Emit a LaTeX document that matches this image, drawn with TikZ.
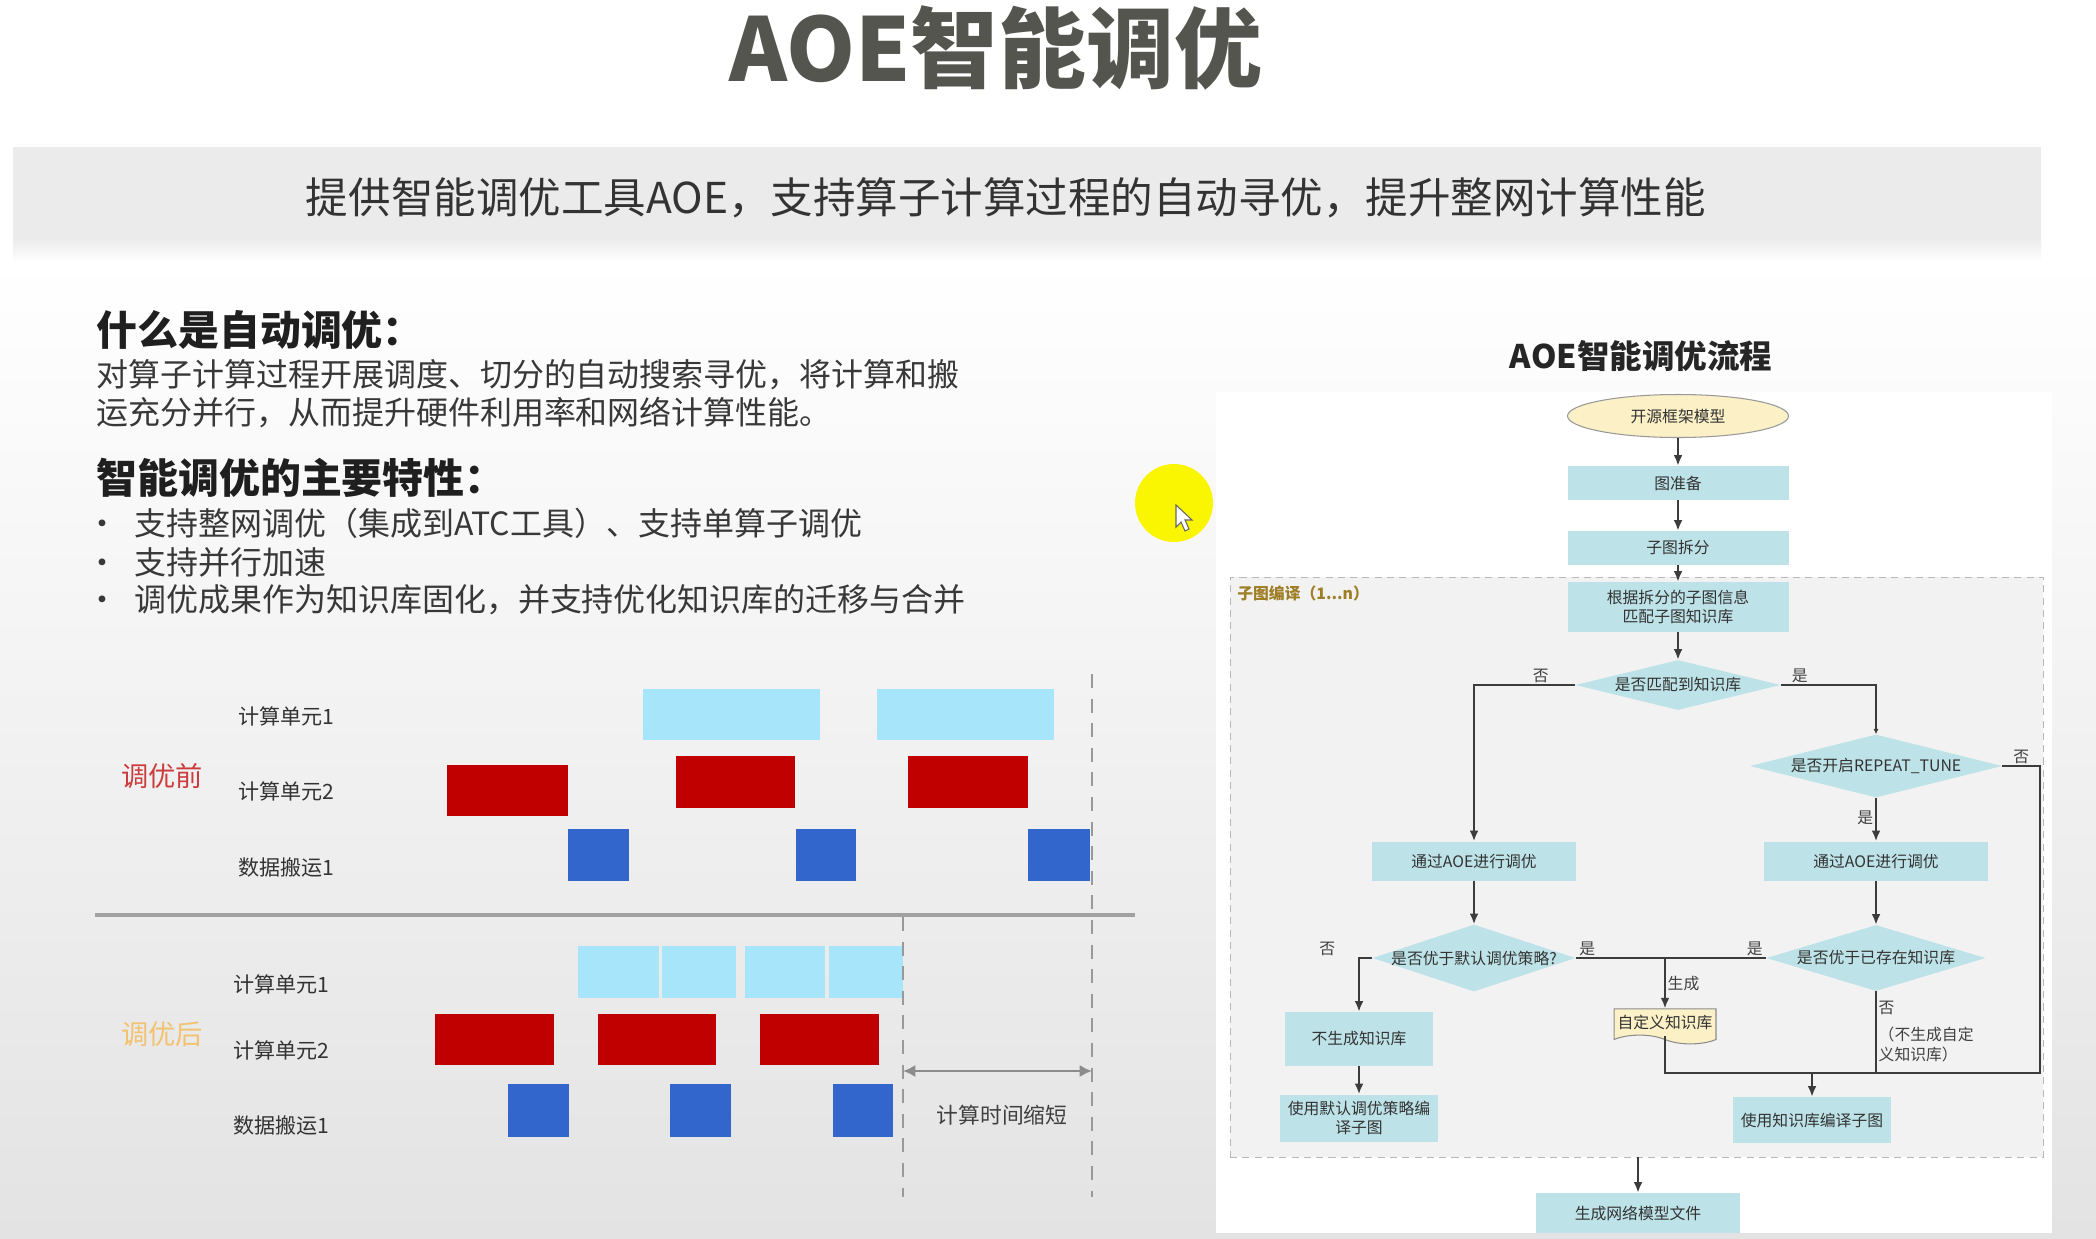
\documentclass[tikz,border=0pt]{standalone}
\usepackage{fontspec}
\setmainfont{Noto Sans CJK SC}
\usetikzlibrary{arrows.meta,shapes.geometric,shapes.symbols}

\definecolor{titlegray}{RGB}{85,85,80}
\definecolor{bannergray}{RGB}{235,235,235}
\definecolor{unitlight}{RGB}{166,229,250}
\definecolor{unitred}{RGB}{192,0,0}
\definecolor{moveblue}{RGB}{51,102,204}
\definecolor{beforered}{RGB}{204,60,60}
\definecolor{afterorange}{RGB}{242,194,112}
\definecolor{stepteal}{RGB}{189,226,231}
\definecolor{startyellow}{RGB}{251,240,198}
\definecolor{groupgold}{RGB}{158,126,38}
\definecolor{wire}{RGB}{60,60,60}
\definecolor{spotyellow}{RGB}{250,245,0}

\newcommand{\dtext}[1]{\makebox[0pt]{#1}}

\tikzset{
  stepbox/.style={rectangle, fill=stepteal, inner sep=1pt, align=center,
    text=black!80, font=\fontsize{9}{11}\selectfont},
  choice/.style={diamond, fill=stepteal, inner sep=0pt,
    text=black!80, font=\fontsize{9}{11}\selectfont},
  answer/.style={text=black!75, inner sep=1pt, font=\fontsize{9}{11}\selectfont},
  wireline/.style={draw=wire, line width=1.1pt},
  wirearrow/.style={wireline, -{Latex[length=6pt,width=5pt]}},
  rowlabel/.style={anchor=west, inner sep=0pt, text=black!80,
    font=\fontsize{12}{14}\selectfont},
  bodytext/.style={anchor=west, inner sep=0pt, text=black!78, align=left},
}

\begin{document}
\begin{tikzpicture}[x=0.02cm, y=-0.02cm]
  \useasboundingbox (0,0) rectangle (2096,1238);
  \fill[white] (0,0) rectangle (2096,1238);
  \shade[top color=white, bottom color=black!11] (0,260) rectangle (2096,1238);

  % title and banner
  \node[text=titlegray, font=\fontsize{50}{56}\selectfont\bfseries] (title) at (996,48) {AOE智能调优};
  \fill[bannergray] (13,147) rectangle (2041,238);
  \shade[top color=bannergray, bottom color=white] (13,238) rectangle (2041,262);
  \node[text=black!80, font=\fontsize{24.2}{28}\selectfont] (slogan) at (1006,198)
    {提供智能调优工具AOE，支持算子计算过程的自动寻优，提升整网计算性能};

  % left column
  \node[bodytext, text=black!88, font=\fontsize{23.3}{27}\selectfont\bfseries] (whatq) at (96,330) {什么是自动调优：};
  \node[bodytext, font=\fontsize{18.2}{21.6}\selectfont] (whata) at (96,394)
    {对算子计算过程开展调度、切分的自动搜索寻优，将计算和搬\\运充分并行，从而提升硬件利用率和网络计算性能。};
  \node[bodytext, text=black!88, font=\fontsize{23.3}{27}\selectfont\bfseries] (featq) at (96,478) {智能调优的主要特性：};
  \node[bodytext, font=\fontsize{18.2}{21}\selectfont] (feat1) at (96,523)
    {\makebox[0.76cm][l]{\hspace{-0.2cm}•}支持整网调优（集成到ATC工具）、支持单算子调优};
  \node[bodytext, font=\fontsize{18.2}{21}\selectfont] (feat2) at (96,562)
    {\makebox[0.76cm][l]{\hspace{-0.2cm}•}支持并行加速};
  \node[bodytext, font=\fontsize{18.2}{21}\selectfont] (feat3) at (96,600)
    {\makebox[0.76cm][l]{\hspace{-0.2cm}•}调优成果作为知识库固化，并支持优化知识库的迁移与合并};

  % timeline before
  \node[text=beforered, font=\fontsize{15.5}{18}\selectfont] (before) at (162,776) {调优前};
  \node[rowlabel] (b1) at (238,716) {计算单元1};
  \node[rowlabel] (b2) at (238,791) {计算单元2};
  \node[rowlabel] (b3) at (238,867) {数据搬运1};
  \foreach \a/\b in {643/820, 877/1054} \fill[unitlight] (\a,689) rectangle (\b,740);
  \fill[unitred] (447,765) rectangle (568,816);
  \foreach \a/\b in {676/795, 908/1028} \fill[unitred] (\a,756) rectangle (\b,808);
  \foreach \a/\b in {568/629, 796/856, 1028/1090} \fill[moveblue] (\a,829) rectangle (\b,881);

  \draw[black!37, line width=2.8pt] (95,915) -- (1135,915);

  % timeline after
  \node[text=afterorange, font=\fontsize{15.5}{18}\selectfont] (after) at (162,1034) {调优后};
  \node[rowlabel] (a1) at (233,984) {计算单元1};
  \node[rowlabel] (a2) at (233,1050) {计算单元2};
  \node[rowlabel] (a3) at (233,1125) {数据搬运1};
  \foreach \a/\b in {578/659, 662/736, 745/825, 829/903} \fill[unitlight] (\a,946) rectangle (\b,998);
  \foreach \a/\b in {435/554, 598/716, 760/879} \fill[unitred] (\a,1014) rectangle (\b,1065);
  \foreach \a/\b in {508/569, 670/731, 833/893} \fill[moveblue] (\a,1084) rectangle (\b,1137);

  \coordinate (endnew) at (903,1071);
  \coordinate (endold) at (1092,1071);
  \draw[black!40, line width=1.3pt, dash pattern=on 8pt off 6pt] (1092,674) -- (1092,1197);
  \draw[black!40, line width=1.3pt, dash pattern=on 8pt off 6pt] (903,917) -- (903,1197);
  \draw[black!45, line width=1.6pt, {Latex[length=7pt,width=7pt]}-{Latex[length=7pt,width=7pt]}] (endnew) -- (endold);
  \node[text=black!75, font=\fontsize{12.4}{14}\selectfont] (shorter) at (1002,1115) {计算时间缩短};

  % flow panel
  \fill[white] (1216,392) rectangle (2052,1233);
  \node[text=black!85, font=\fontsize{18.5}{22}\selectfont\bfseries] (flowtitle) at (1641,356) {AOE智能调优流程};
  \node[draw=black!28, dash pattern=on 4pt off 3pt, fill=black!5, inner sep=0pt,
    minimum width=16.26cm, minimum height=11.6cm] (group) at (1636.5,867) {};
  \node[anchor=west, inner sep=0pt, text=groupgold, font=\fontsize{9}{11}\selectfont\bfseries] (grouptitle) at (1237,593) {子图编译（1...n）};

  \node[ellipse, fill=startyellow, draw=black!40, line width=0.6pt, text=black!80,
    font=\fontsize{9}{11}\selectfont, minimum width=4.42cm, minimum height=0.86cm] (start) at (1678,416) {开源框架模型};
  \node[stepbox, minimum width=4.42cm, minimum height=0.68cm] (prep) at (1678,483) {图准备};
  \node[stepbox, minimum width=4.42cm, minimum height=0.68cm] (split) at (1678,548) {子图拆分};
  \node[stepbox, minimum width=4.42cm, minimum height=1.0cm] (match) at (1678,607) {根据拆分的子图信息\\匹配子图知识库};
  \node[choice, minimum width=4.1cm, minimum height=1.0cm] (dia1) at (1678,685) {\dtext{是否匹配到知识库}};
  \node[choice, minimum width=5.04cm, minimum height=1.26cm] (dia2) at (1876,766) {\dtext{是否开启REPEAT\_TUNE}};
  \node[stepbox, minimum width=4.1cm, minimum height=0.78cm] (aoeL) at (1474,861) {通过AOE进行调优};
  \node[stepbox, minimum width=4.48cm, minimum height=0.78cm] (aoeR) at (1876,861) {通过AOE进行调优};
  \node[choice, minimum width=4.06cm, minimum height=1.34cm] (dia3) at (1474,958) {\dtext{是否优于默认调优策略?}};
  \node[choice, minimum width=4.38cm, minimum height=1.32cm] (dia4) at (1876,958) {\dtext{是否优于已存在知识库}};
  \node[stepbox, minimum width=2.96cm, minimum height=1.08cm] (nogen) at (1359,1039) {不生成知识库};
  \node[stepbox, minimum width=3.16cm, minimum height=0.94cm] (defuse) at (1359,1118) {使用默认调优策略编\\译子图};
  \node[tape, tape bend top=none, tape bend bottom=out and in, tape bend height=5pt,
    fill=startyellow, draw=black!45, line width=0.6pt, inner sep=1pt, text=black!80,
    font=\fontsize{9}{11}\selectfont, minimum width=2.04cm, minimum height=0.7cm] (doc) at (1665,1022) {自定义知识库};
  \node[stepbox, minimum width=3.16cm, minimum height=0.92cm] (kbuse) at (1812,1120) {使用知识库编译子图};
  \node[stepbox, minimum width=4.08cm, minimum height=0.8cm] (final) at (1638,1213) {生成网络模型文件};

  \draw[wirearrow] (start) -- (prep);
  \draw[wirearrow] (prep) -- (split);
  \draw[wirearrow] (split) -- (match);
  \draw[wirearrow] (match) -- (dia1);
  \draw[wirearrow] (dia1.west) -| node[answer, pos=0.17, above] {否} (aoeL);
  \draw[wireline, -{Latex[length=3pt,width=3pt]}] (dia1.east) -| node[answer, pos=0.1, above] {是} (dia2);
  \draw[wirearrow] (dia2) -- node[answer, left, pos=0.45] {是} (aoeR);
  \draw[wirearrow] (aoeL) -- (dia3);
  \draw[wirearrow] (aoeR) -- (dia4);
  \draw[wirearrow] (dia3.west) -| node[answer, pos=0.5, above left, xshift=-12pt] {否} (nogen);
  \draw[wirearrow] (nogen) -- (defuse);
  \draw[wireline] (dia3.east) -- node[answer, pos=0.06, above] {是}
    node[answer, pos=0.94, above] {是} (dia4.west);
  \draw[wirearrow] (doc.north |- dia3.east) -- node[answer, right] {生成} (doc);

  \coordinate (busL) at (1665,1073);
  \coordinate (busR) at (2040,1073);
  \draw[wireline] (dia2.east) -- node[answer, above] {否} (dia2.east -| busR) -- (busR) -- (busL) -- (doc.south);
  \draw[wireline] (dia4.south) -- node[answer, pos=0.2, right] {否}
    node[answer, pos=0.65, right, align=left] {（不生成自定\\义知识库）} (dia4.south |- busR);
  \draw[wirearrow] (kbuse.north |- busR) -- (kbuse);
  \draw[wirearrow] (final.north |- group.south) -- (final);

  % pointer highlight
  \fill[spotyellow] (1174,503) circle[radius=0.78cm];
  \filldraw[fill=white, draw=black!60, line width=0.6pt] (1176,505) -- (1176,527) -- (1181,522)
    -- (1185,531) -- (1189,529) -- (1185,520) -- (1192,520) -- cycle;
\end{tikzpicture}
\end{document}
